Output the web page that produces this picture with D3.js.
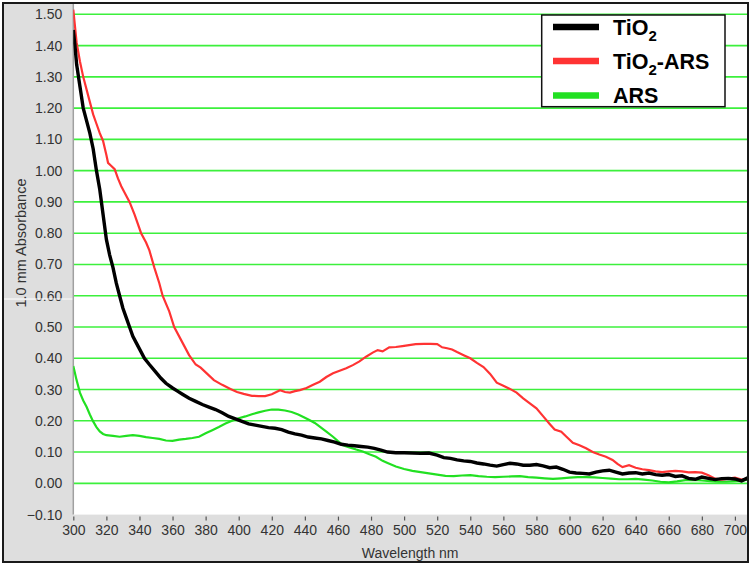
<!DOCTYPE html>
<html>
<head>
<meta charset="utf-8">
<script src="https://cdn.jsdelivr.net/npm/d3@7"></script>
<style>
body { margin: 0; background: #fff; }
svg { display: block; font-family: Arial, "Liberation Sans", sans-serif; }
</style>
</head>
<body>
<div id="chart"></div>
<script>
// wavelength (nm) and absorbance
var tio2Nm = [300, 301, 302, 304, 306, 308, 310, 312, 314, 316, 318, 320, 322, 324, 326, 328, 330, 332, 334, 336, 338, 340,
  343, 346, 350, 353, 356, 360, 363, 366, 370, 374, 378, 382, 386, 390, 394, 398, 402, 406, 410, 414, 418, 422, 426, 430,
  434, 438, 442, 446, 450, 454, 458, 462, 466, 470, 474, 478, 482, 486, 490, 495, 500, 505, 510, 515, 520, 524, 528, 532,
  536, 540, 544, 548, 552, 556, 560, 564, 568, 572, 576, 580, 584, 588, 592, 596, 600, 604, 608, 612, 616, 620, 624, 628,
  632, 636, 640, 644, 648, 652, 656, 660, 664, 668, 672, 676, 680, 684, 688, 692, 696, 700, 704, 708];
var tio2Abs = [1.45, 1.40, 1.34, 1.27, 1.20, 1.16, 1.12, 1.07, 1.00, 0.94, 0.86, 0.78, 0.73, 0.69, 0.64, 0.60, 0.56, 0.53, 0.50, 0.47, 0.45, 0.43,
  0.40, 0.38, 0.355, 0.336, 0.32, 0.305, 0.295, 0.285, 0.272, 0.262, 0.252, 0.244, 0.236, 0.226, 0.214, 0.206, 0.198, 0.19, 0.186, 0.182, 0.178, 0.176, 0.172, 0.164,
  0.158, 0.154, 0.148, 0.145, 0.142, 0.137, 0.132, 0.125, 0.122, 0.120, 0.118, 0.116, 0.112, 0.106, 0.100, 0.098, 0.098, 0.097, 0.096, 0.097, 0.090, 0.082, 0.080, 0.075,
  0.072, 0.070, 0.065, 0.062, 0.058, 0.055, 0.060, 0.064, 0.062, 0.058, 0.058, 0.060, 0.056, 0.050, 0.052, 0.045, 0.036, 0.033, 0.032, 0.030, 0.036, 0.040, 0.042, 0.036,
  0.030, 0.033, 0.034, 0.030, 0.033, 0.028, 0.026, 0.028, 0.022, 0.024, 0.016, 0.013, 0.020, 0.016, 0.012, 0.015, 0.016, 0.014, 0.008, 0.018];

var arsTiNm = [300, 302, 304, 306, 308, 310, 312, 314, 316, 318, 320, 321, 323, 325, 327, 329, 332, 334, 337, 341, 344, 346, 349, 352, 354,
  358, 361, 366, 370, 374, 377, 381, 385, 390, 395, 399, 403, 408, 412, 416, 420, 425, 428, 431, 434, 437, 441, 445, 449, 453,
  457, 461, 465, 469, 473, 477, 481, 484, 487, 491, 495, 499, 503, 507, 512, 516, 520, 523, 526, 529, 532, 536, 540, 544, 548,
  552, 556, 560, 564, 568, 572, 576, 580, 584, 588, 591, 595, 598, 602, 606, 610, 614, 618, 622, 626, 629, 632, 636, 640, 644,
  648, 652, 656, 660, 664, 668, 672, 676, 680, 684, 688, 692, 696, 700, 704, 708];
var arsTiAbs = [1.515, 1.41, 1.35, 1.30, 1.26, 1.22, 1.18, 1.15, 1.12, 1.095, 1.05, 1.025, 1.015, 1.005, 0.975, 0.95, 0.92, 0.90, 0.86, 0.80, 0.77, 0.745, 0.69, 0.64, 0.60,
  0.55, 0.50, 0.45, 0.41, 0.38, 0.37, 0.35, 0.33, 0.315, 0.302, 0.292, 0.286, 0.28, 0.279, 0.279, 0.285, 0.298, 0.292, 0.29, 0.295, 0.298, 0.305, 0.315, 0.325, 0.34,
  0.352, 0.36, 0.368, 0.378, 0.39, 0.405, 0.418, 0.426, 0.422, 0.435, 0.436, 0.439, 0.442, 0.445, 0.446, 0.446, 0.445, 0.435, 0.432, 0.428, 0.42, 0.41, 0.40, 0.385, 0.372,
  0.35, 0.322, 0.312, 0.302, 0.29, 0.272, 0.256, 0.24, 0.215, 0.19, 0.172, 0.165, 0.15, 0.13, 0.122, 0.112, 0.10, 0.092, 0.085, 0.075, 0.062, 0.052, 0.058, 0.05, 0.045,
  0.042, 0.038, 0.036, 0.038, 0.04, 0.038, 0.035, 0.036, 0.034, 0.026, 0.015, 0.012, 0.015, 0.018, 0.012, 0.016];

var arsNm = [300, 302, 304, 306, 308, 310, 312, 314, 316, 318, 320, 324, 328, 332, 336, 340, 344, 348, 352, 356, 360, 364, 368, 372, 376,
  380, 384, 388, 392, 396, 400, 404, 408, 412, 416, 420, 424, 428, 432, 436, 440, 443, 446, 449, 453, 457, 460, 463, 467, 471,
  475, 479, 483, 487, 490, 495, 500, 505, 510, 515, 520, 525, 530, 535, 540, 545, 550, 555, 560, 565, 570, 575, 580, 585, 590,
  595, 600, 605, 610, 615, 620, 625, 630, 635, 640, 645, 650, 655, 660, 665, 670, 675, 680, 685, 690, 695, 700, 705, 708];
var arsAbs = [0.375, 0.33, 0.29, 0.265, 0.245, 0.22, 0.198, 0.18, 0.166, 0.158, 0.154, 0.152, 0.149, 0.152, 0.154, 0.152, 0.148, 0.145, 0.142, 0.137, 0.136, 0.14, 0.142, 0.145, 0.149,
  0.16, 0.17, 0.18, 0.191, 0.20, 0.208, 0.214, 0.221, 0.227, 0.232, 0.236, 0.236, 0.233, 0.228, 0.22, 0.21, 0.202, 0.193, 0.181, 0.165, 0.149, 0.135, 0.122, 0.115, 0.108,
  0.102, 0.093, 0.085, 0.072, 0.065, 0.054, 0.046, 0.040, 0.036, 0.032, 0.028, 0.024, 0.023, 0.025, 0.026, 0.023, 0.021, 0.02, 0.021, 0.022, 0.023, 0.02, 0.018, 0.016, 0.014,
  0.016, 0.018, 0.02, 0.02, 0.019, 0.017, 0.015, 0.013, 0.013, 0.014, 0.012, 0.009, 0.005, 0.003, 0.006, 0.01, 0.011, 0.009, 0.007, 0.005, 0.005, 0.007, 0.01, 0.011];

var xTicks = d3.range(300, 701, 20);
var yTicks = d3.range(-1, 16).map(function (i) { return i / 10; });
var seriesNames = ["TiO2", "TiO2-ARS", "ARS"];
var seriesColors = ["#000000", "#ff3333", "#22e022"];

var width = 750,
  height = 566;

var svg = d3.select("#chart").append("svg")
  .attr("width", width)
  .attr("height", height);

var x = d3.scaleLinear().domain([300, 707.3]).range([73.3, 747]);
var y = d3.scaleLinear().domain([-0.1, 1.533]).range([514.6, 4]);

// outer panel
svg.append("rect")
  .attr("x", 3).attr("y", 3)
  .attr("width", 745).attr("height", 559)
  .attr("fill", "#dedede")
  .attr("stroke", "#1a1a1a")
  .attr("stroke-width", 2);

svg.append("rect")
  .attr("x", x(300)).attr("y", y(1.533))
  .attr("width", x(707.3) - x(300)).attr("height", y(-0.1) - y(1.533))
  .attr("fill", "#fff");

svg.append("clipPath").attr("id", "plotclip")
  .append("rect")
  .attr("x", x(300)).attr("y", y(1.533))
  .attr("width", x(707.3) - x(300)).attr("height", y(-0.1) - y(1.533));

// grid
svg.append("g").attr("class", "grid")
  .selectAll("line")
  .data(yTicks.filter(function (d) { return d >= 0; }))
  .enter().append("line")
  .attr("x1", x(300)).attr("x2", x(707.3))
  .attr("y1", function (d) { return y(d); })
  .attr("y2", function (d) { return y(d); })
  .attr("stroke", "#3cf03c")
  .attr("stroke-width", 1.6);

// axes
var xAxis = svg.append("g")
  .attr("transform", "translate(0," + y(-0.1) + ")")
  .call(d3.axisBottom(x).tickValues(xTicks).tickSize(6).tickPadding(4).tickFormat(d3.format("d")));
xAxis.select(".domain").remove();
xAxis.selectAll(".tick line").attr("stroke", "#555").attr("stroke-width", 1.2).attr("y1", 2);
xAxis.selectAll("text").attr("font-size", 14).attr("fill", "#333").attr("font-family", "Arial, 'Liberation Sans', sans-serif");

var yAxis = svg.append("g")
  .attr("transform", "translate(" + x(300) + ",0)")
  .call(d3.axisLeft(y).tickValues(yTicks).tickSize(0).tickPadding(11).tickFormat(d3.format(".2f")));
yAxis.select(".domain").remove();
yAxis.selectAll("text").attr("font-size", 14).attr("fill", "#333").attr("font-family", "Arial, 'Liberation Sans', sans-serif");

svg.append("line")
  .attr("x1", x(300)).attr("x2", x(300))
  .attr("y1", y(1.533)).attr("y2", y(-0.1))
  .attr("stroke", "#a0a0a0")
  .attr("stroke-width", 1.5);

// little white seam across the left panel
svg.append("line")
  .attr("x1", 4).attr("x2", x(300) - 1)
  .attr("y1", 299).attr("y2", 299)
  .attr("stroke", "#fff").attr("stroke-width", 1);

svg.append("text")
  .attr("x", (x(300) + x(707.3)) / 2)
  .attr("y", 558)
  .attr("text-anchor", "middle")
  .attr("font-size", 14)
  .attr("fill", "#333")
  .text("Wavelength nm");

svg.append("text")
  .attr("transform", "translate(26,243) rotate(-90)")
  .attr("text-anchor", "middle")
  .attr("font-size", 14.5)
  .attr("fill", "#333")
  .text("1.0 mm Absorbance");

// spectra
var line = d3.line()
  .x(function (d) { return x(d[0]); })
  .y(function (d) { return y(d[1]); });

function pairs(nm, abs) {
  return nm.map(function (w, i) { return [w, abs[i]]; });
}

var curves = svg.append("g").attr("clip-path", "url(#plotclip)");

curves.append("path")
  .datum(pairs(arsNm, arsAbs))
  .attr("d", line)
  .attr("fill", "none")
  .attr("stroke", seriesColors[2])
  .attr("stroke-width", 2.2);

curves.append("path")
  .datum(pairs(arsTiNm, arsTiAbs))
  .attr("d", line)
  .attr("fill", "none")
  .attr("stroke", seriesColors[1])
  .attr("stroke-width", 2.2);

curves.append("path")
  .datum(pairs(tio2Nm, tio2Abs))
  .attr("d", line)
  .attr("fill", "none")
  .attr("stroke", seriesColors[0])
  .attr("stroke-width", 3.4);

// legend
var legend = svg.append("g").attr("class", "legend");
legend.append("rect")
  .attr("x", 541.7).attr("y", 15)
  .attr("width", 183.3).attr("height", 91.7)
  .attr("fill", "#fff")
  .attr("stroke", "#111")
  .attr("stroke-width", 1.5);

var rowY = [27, 61, 95.5];
var item = legend.selectAll("g.item")
  .data(seriesNames)
  .enter().append("g")
  .attr("class", "item")
  .attr("transform", function (d, i) { return "translate(0," + rowY[i] + ")"; });

item.append("line")
  .attr("x1", 553).attr("x2", 599)
  .attr("stroke", function (d, i) { return seriesColors[i]; })
  .attr("stroke-width", 6.5);

var label = item.append("text")
  .attr("x", 613)
  .attr("y", 7.5)
  .attr("font-size", 21.5)
  .attr("font-weight", "bold")
  .attr("fill", "#000");

label.each(function (d) {
  var t = d3.select(this);
  if (d.indexOf("TiO2") === 0) {
    t.append("tspan").text("TiO");
    t.append("tspan").attr("dy", 6).attr("font-size", 15).text("2");
    if (d.length > 4) t.append("tspan").attr("dy", -6).text(d.slice(4));
  } else {
    t.text(d);
  }
});
</script>
</body>
</html>
